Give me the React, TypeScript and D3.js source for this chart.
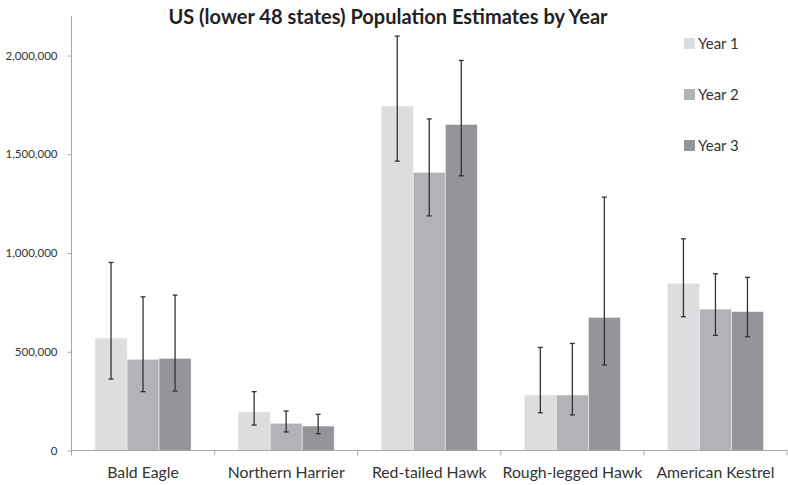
import React, { useRef, useEffect } from 'react';
import * as d3 from 'd3';

const categories = ['Bald Eagle', 'Northern Harrier', 'Red-tailed Hawk', 'Rough-legged Hawk', 'American Kestrel'];
const years = ['Year 1', 'Year 2', 'Year 3'];
const colors = ['#dcdddf', '#b2b3b6', '#949598'];

// estimates per year, one array per series (category order)
const year1 = [569000, 195000, 1744000, 281000, 846000];
const year2 = [462000, 138000, 1408000, 281000, 716000];
const year3 = [467000, 124000, 1651000, 674000, 703000];

// error bar bounds
const year1Low = [362000, 129000, 1465000, 191000, 677000];
const year1High = [952000, 298000, 2098000, 522000, 1072000];
const year2Low = [298000, 94000, 1188000, 180000, 583000];
const year2High = [778000, 200000, 1679000, 542000, 895000];
const year3Low = [301000, 85000, 1391000, 433000, 576000];
const year3High = [787000, 183000, 1975000, 1283000, 877000];

const yTicks = [0, 500000, 1000000, 1500000, 2000000];

const W = 788;
const H = 485;
const FONT = 'Lato, "Open Sans", sans-serif';

const App: React.FC = () => {
  const svgRef = useRef<SVGSVGElement>(null);

  useEffect(() => {
    const svg = d3.select(svgRef.current);
    svg.selectAll('*').remove();

    const left = 71.5;
    const right = 787;
    const top = 16;
    const bottom = 450.5;

    const values = [year1, year2, year3];
    const lows = [year1Low, year2Low, year3Low];
    const highs = [year1High, year2High, year3High];

    const x = d3.scaleBand<string>().domain(categories).range([left, right]).padding(0);
    const xi = d3.scaleBand<string>().domain(years).range([0, x.bandwidth()]).paddingInner(0).paddingOuter(0.735);
    const y = d3.scaleLinear().domain([0, 2200000]).range([bottom, top]);

    // Title
    svg.append('text')
      .attr('x', 388)
      .attr('y', 23.5)
      .attr('text-anchor', 'middle')
      .attr('font-family', FONT)
      .attr('font-weight', 'bold')
      .attr('font-size', 20)
      .attr('fill', '#222')
      .text('US (lower 48 states) Population Estimates by Year');

    // Bars
    years.forEach((yr, s) => {
      svg.append('g')
        .selectAll('rect')
        .data(categories)
        .enter()
        .append('rect')
        .attr('x', (c) => (x(c) as number) + (xi(yr) as number))
        .attr('width', xi.bandwidth())
        .attr('y', (_, i) => y(values[s][i]))
        .attr('height', (_, i) => bottom - y(values[s][i]))
        .attr('fill', colors[s])
        .attr('stroke', '#f4f4f4')
        .attr('stroke-width', 0.6);
    });

    // Error bars
    years.forEach((yr, s) => {
      const g = svg.append('g').attr('stroke', '#333').attr('stroke-width', 1.3);
      categories.forEach((c, i) => {
        const cx = (x(c) as number) + (xi(yr) as number) + xi.bandwidth() / 2;
        const y0 = y(lows[s][i]);
        const y1 = y(highs[s][i]);
        g.append('line').attr('x1', cx).attr('x2', cx).attr('y1', y0).attr('y2', y1);
        g.append('line').attr('x1', cx - 2.5).attr('x2', cx + 2.5).attr('y1', y0).attr('y2', y0);
        g.append('line').attr('x1', cx - 2.5).attr('x2', cx + 2.5).attr('y1', y1).attr('y2', y1);
      });
    });

    // Y axis
    const yAxis = svg.append('g')
      .attr('transform', `translate(${left},0)`)
      .call(d3.axisLeft(y).tickValues(yTicks).tickSize(4).tickPadding(10).tickFormat(d3.format(',')));
    yAxis.select('.domain').attr('d', `M0,${top}V${bottom}`);
    yAxis.selectAll('text').attr('font-family', FONT).attr('font-size', 11.5).attr('fill', '#333');

    // X axis
    const xAxis = svg.append('g')
      .attr('transform', `translate(0,${bottom})`)
      .call(d3.axisBottom(x).tickSize(0).tickPadding(16.5));
    xAxis.select('.domain').attr('d', `M${left},0H${right}`);
    xAxis.selectAll('text').attr('font-family', FONT).attr('font-size', 15.8).attr('fill', '#333');

    // Category boundary ticks
    svg.append('g')
      .selectAll('line')
      .data([...categories.map((c) => x(c) as number), right])
      .enter()
      .append('line')
      .attr('x1', (d) => d)
      .attr('x2', (d) => d)
      .attr('y1', bottom)
      .attr('y2', bottom + 5)
      .attr('stroke', '#a6a6a6');

    svg.selectAll('.domain, .tick line').attr('stroke', '#a6a6a6');

    // Legend
    const legend = svg.append('g').attr('transform', 'translate(684,38)');
    years.forEach((yr, s) => {
      legend.append('rect')
        .attr('x', 0)
        .attr('y', s * 51)
        .attr('width', 11)
        .attr('height', 11)
        .attr('fill', colors[s]);
      legend.append('text')
        .attr('x', 14)
        .attr('y', s * 51 + 11)
        .attr('font-family', FONT)
        .attr('font-size', 15)
        .attr('fill', '#333')
        .text(yr);
    });
  }, []);

  return (
    <div style={{ position: 'absolute', left: 0, top: 0 }}>
      <svg ref={svgRef} width={W} height={H} style={{ display: 'block', background: '#fff' }} />
    </div>
  );
};

export default App;
